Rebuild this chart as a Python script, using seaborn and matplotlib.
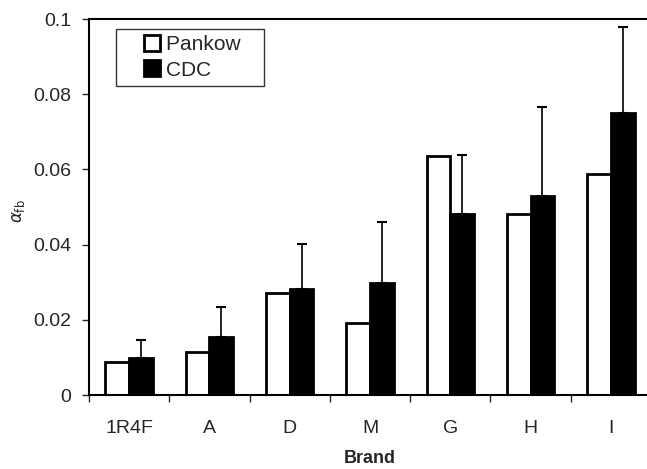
import pandas as pd
import matplotlib
matplotlib.use('Agg')
import matplotlib.pyplot as plt
from matplotlib.lines import Line2D
import seaborn as sns
import numpy as np

brands = ['1R4F', 'A', 'D', 'M', 'G', 'H', 'I']
pankow = [0.0087, 0.0115, 0.0270, 0.0191, 0.0636, 0.0481, 0.0588]
cdc = [0.0098, 0.0154, 0.0283, 0.0299, 0.0481, 0.0529, 0.0751]
cdc_err = [0.0048, 0.0081, 0.0119, 0.0161, 0.0158, 0.0236, 0.0229]

df = pd.DataFrame({
    'Brand': brands * 2,
    'value': pankow + cdc,
    'method': ['Pankow'] * len(brands) + ['CDC'] * len(brands),
})

sns.set_style('white')
plt.rcParams['font.family'] = ['Liberation Sans', 'DejaVu Sans']

fig = plt.figure(figsize=(6.47, 4.69), dpi=100)
ax = fig.add_axes([89 / 647, 74 / 469, 562 / 647, 376 / 469])

sns.barplot(data=df, x='Brand', y='value', hue='method', order=brands,
            hue_order=['Pankow', 'CDC'], palette=['white', 'black'],
            edgecolor='black', linewidth=2, width=0.59, errorbar=None, ax=ax)

# one-sided error bars on the CDC bars only
cdc_bars = ax.containers[1]
xs = [b.get_x() + b.get_width() / 2 for b in cdc_bars]
ax.errorbar(xs, cdc, yerr=[np.zeros(len(cdc)), cdc_err], fmt='none',
            ecolor='black', elinewidth=1.2, capsize=3.3, capthick=1.5, zorder=1)

ax.set_ylim(0, 0.1)
ax.set_xlim(-0.5, len(brands) - 0.5)
ax.set_yticks([0, 0.02, 0.04, 0.06, 0.08, 0.1])
ax.set_yticklabels(['0', '0.02', '0.04', '0.06', '0.08', '0.1'])
ax.set_xticks(range(len(brands)))
ax.set_xticks(np.arange(-0.5, len(brands), 1), minor=True)
ax.tick_params(axis='x', which='major', length=0, labelsize=14, pad=18)
ax.tick_params(axis='x', which='minor', length=5, width=1, direction='out', bottom=True)
ax.tick_params(axis='y', length=5, width=1, direction='out', left=True, labelsize=14, pad=8)

for side in ['left', 'bottom', 'top']:
    ax.spines[side].set_color('black')
    ax.spines[side].set_linewidth(1.5)
ax.spines['right'].set_visible(False)

ax.set_xlabel('Brand', fontsize=13, fontweight='bold', labelpad=9)
ax.set_ylabel(r'$\alpha_{\mathrm{fb}}$', fontsize=12)
ax.yaxis.set_label_coords(-0.11, 0.49)

handles = [
    Line2D([], [], marker='s', ls='none', markersize=11, mfc='white', mec='black', mew=2),
    Line2D([], [], marker='s', ls='none', markersize=11, mfc='black', mec='black', mew=2),
]
leg = ax.legend(handles, ['Pankow   ', 'CDC'], loc='upper left',
                bbox_to_anchor=(27 / 562, 1 - 10 / 376), fontsize=15,
                frameon=True, fancybox=False, edgecolor='black',
                handlelength=2.9, handletextpad=-0.8,
                borderpad=0.3, labelspacing=0.3, borderaxespad=0)
leg.get_frame().set_linewidth(1)

fig.savefig('out.png', dpi=100)
